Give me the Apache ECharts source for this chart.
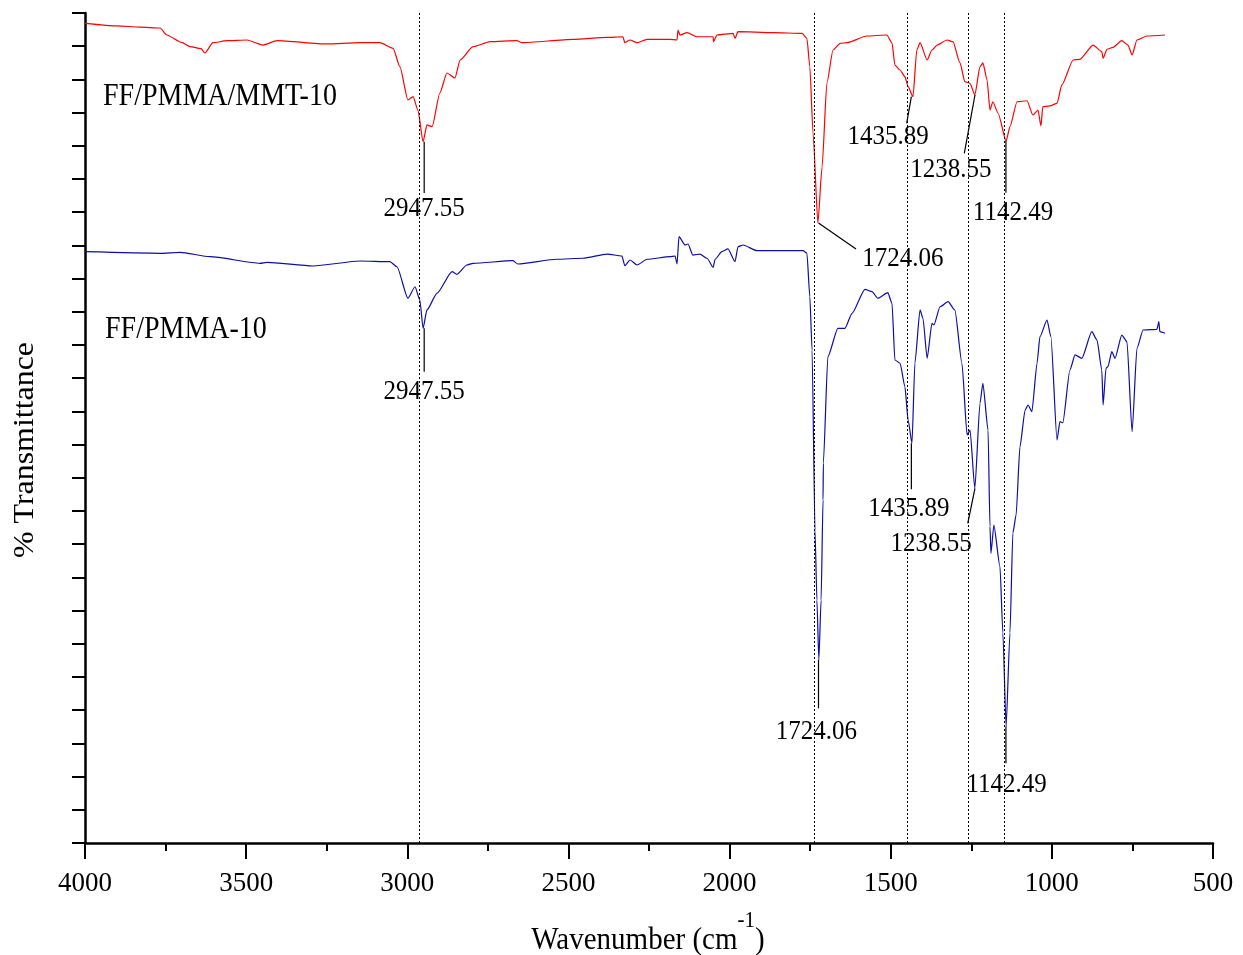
<!DOCTYPE html>
<html><head><meta charset="utf-8">
<script src="https://cdn.jsdelivr.net/npm/echarts@6/dist/echarts.min.js"></script>
<style>html,body{margin:0;padding:0;background:#fff}#c{width:1243px;height:955px}</style>
</head><body><div id="c"></div>
<script>
// FF/PMMA/MMT-10 (red) spectrum, wavenumber (cm-1) and % transmittance (arbitrary offset scale)
const redWn = [4000,3900,3830,3767,3746,3700,3674,3640,3628,3603,3559,3497,3448,3404,3249,3147,3085,3044,3023,2998,2982,2967,2951,2939,2923,2899,2877,2852,2836,2796,2743,2660,2644,2486,2380,2331,2325,2309,2287,2256,2185,2163,2160,2154,2132,2101,2051,2050,2039,1989,1983,1974,1865,1775,1760,1751,1741,1726,1713,1698,1679,1657,1636,1574,1512,1496,1487,1471,1456,1446,1431,1419,1409,1387,1372,1356,1325,1307,1285,1270,1254,1239,1223,1214,1201,1192,1183,1167,1142,1130,1108,1077,1059,1043,1034,1028,1006,984,969,934,913,872,845,841,829,810,783,764,751,736,705,649];
const redT  = [98.76,98.45,98.30,98.19,97.35,96.45,95.94,95.70,95.18,96.42,96.66,96.75,96.14,96.66,96.27,96.42,96.42,95.75,93.53,89.52,89.92,88.31,84.49,86.51,86.30,90.36,92.77,92.17,94.34,95.94,96.54,96.66,96.42,96.83,97.07,97.14,96.42,96.75,96.42,96.83,96.83,96.75,97.95,97.35,97.63,97.14,97.14,96.54,97.35,97.55,96.95,97.75,97.63,97.55,96.95,93.53,85.54,74.70,81.45,91.57,95.54,96.35,96.42,97.23,97.35,96.39,93.73,93.13,92.33,91.12,89.92,95.54,96.42,94.34,95.54,96.14,96.75,96.54,93.98,91.72,91.53,90.12,93.53,93.98,91.93,88.31,89.31,87.95,84.58,86.30,89.31,89.43,87.71,88.31,86.39,88.71,88.80,89.12,91.33,94.34,94.42,96.14,95.34,94.54,95.63,95.87,96.66,96.14,94.94,96.75,97.23,97.35];

// FF/PMMA-10 (blue) spectrum
const blueWn = [4000,3767,3705,3612,3457,3435,3293,3147,3054,3032,2998,2976,2961,2951,2939,2908,2861,2846,2815,2796,2672,2657,2536,2455,2380,2334,2325,2309,2287,2256,2185,2169,2163,2157,2138,2129,2114,2092,2070,2051,2045,2024,2005,1983,1974,1958,1915,1772,1760,1751,1744,1735,1729,1723,1716,1710,1709,1695,1664,1642,1620,1580,1558,1540,1509,1496,1487,1471,1456,1446,1434,1425,1409,1400,1387,1372,1366,1347,1322,1301,1279,1263,1254,1239,1223,1214,1198,1192,1189,1180,1161,1152,1142,1130,1121,1111,1099,1083,1074,1062,1046,1037,1015,1003,984,975,966,944,928,907,876,860,845,841,832,826,814,804,783,767,751,736,717,674,668,665,649];
const blueT  = [71.24,71.05,71.17,70.64,69.84,69.96,69.52,70.12,70.04,69.43,65.63,67.02,65.42,62.01,64.22,66.23,68.83,68.52,69.64,69.84,70.16,69.76,70.33,70.45,70.96,70.72,69.55,70.24,69.64,70.33,70.64,70.72,69.76,73.05,72.05,72.17,70.84,70.96,70.45,69.36,70.33,71.24,71.57,70.04,71.84,72.05,71.36,71.36,71.05,65.82,59.40,37.71,29.28,22.05,29.28,41.33,45.78,58.59,62.01,62.01,63.82,66.71,66.42,65.63,66.30,65.02,58.19,57.80,54.98,50.96,48.16,57.83,64.22,63.22,58.40,62.61,62.41,64.61,65.22,64.22,57.80,49.16,49.76,42.73,52.98,55.39,49.76,38.11,34.90,38.31,33.29,25.30,14.01,25.30,37.35,39.5,47.75,52.17,52.77,51.96,57.80,61.00,63.01,61.00,48.55,50.76,50.64,56.99,58.80,58.40,61.60,60.60,56.99,52.77,57.19,57.39,59.19,58.40,61.20,60.40,49.55,59.60,61.81,61.89,62.81,61.60,61.41];

const seriesNames = ['FF/PMMA/MMT-10', 'FF/PMMA-10'];
const peakLabels = ['2947.55', '1724.06', '1435.89', '1238.55', '1142.49'];
// reference (dotted) lines, wavenumber
const refLines = [2962, 1737, 1449.5, 1259, 1147];
// annotations: [peakWn, peakT, leaderEndWn, leaderEndT, textWn, textT]
const redAnn = [
  [2947.55, 84.49, 2947.55, 78.31, 2947.55, 76.39],
  [1724.06, 74.70, 1607.7, 71.57, 1461.9, 70.36],
  [1435.89, 89.92, 1450.5, 86.71, 1508.4, 85.10],
  [1238.55, 90.12, 1271.7, 83.10, 1313.6, 81.12],
  [1142.49, 84.58, 1142.49, 78.35, 1120.6, 75.90]
];
const blueAnn = [
  [2947.55, 62.01, 2947.55, 56.78, 2947.55, 54.37],
  [1724.06, 22.05, 1724.06, 16.23, 1730.3, 13.37],
  [1435.89, 48.16, 1435.89, 42.61, 1443.3, 40.33],
  [1238.55, 42.73, 1261.0, 38.52, 1374.4, 36.11],
  [1142.49, 14.01, 1142.49, 9.60, 1140.1, 6.99]
];

const FONT = '"Liberation Serif", "Times New Roman", serif';
const zip = (a, b) => a.map((v, i) => [v, b[i]]);

function annSeries(ann) {
  return {
    type: 'custom', silent: true, clip: false, z: 5,
    encode: { x: [0, 2, 4], y: [1, 3, 5] },
    data: ann,
    renderItem: function (params, api) {
      const s = api.coord([api.value(0), api.value(1)]);
      const e = api.coord([api.value(2), api.value(3)]);
      const t = api.coord([api.value(4), api.value(5)]);
      return {
        type: 'group',
        children: [
          { type: 'line', shape: { x1: s[0], y1: s[1], x2: e[0], y2: e[1] }, style: { stroke: '#000', lineWidth: 1.2 } },
          { type: 'text', x: t[0], y: t[1], scaleY: 1.12,
            style: { text: peakLabels[params.dataIndex], fill: '#000', font: '25px ' + FONT, align: 'center', verticalAlign: 'middle' } }
        ]
      };
    }
  };
}

const chart = echarts.init(document.getElementById('c'), null, { renderer: 'canvas' });
chart.setOption({
  animation: false,
  backgroundColor: '#fff',
  grid: { left: 85, right: 30, top: 13, bottom: 112, containLabel: false },
  xAxis: {
    type: 'value', inverse: true, min: 500, max: 4000, interval: 500,
    axisLine: { show: true, onZero: false, lineStyle: { color: '#000', width: 2.5 } },
    axisTick: { show: true, inside: false, length: 16, lineStyle: { color: '#000', width: 2 } },
    minorTick: { show: true, splitNumber: 2, length: 8, lineStyle: { color: '#000', width: 2 } },
    splitLine: { show: false }, minorSplitLine: { show: false },
    axisLabel: { color: '#000', fontFamily: FONT, fontSize: 27, margin: 27, formatter: v => String(v) }
  },
  yAxis: {
    type: 'value', min: 0, max: 100, interval: 4,
    axisLine: { show: true, onZero: false, lineStyle: { color: '#000', width: 2.5 } },
    axisTick: { show: true, inside: false, length: 13, lineStyle: { color: '#000', width: 2 } },
    axisLabel: { show: false },
    splitLine: { show: false }
  },
  graphic: [
    { type: 'text', x: 103, y: 97, scaleY: 1.12, style: { text: seriesNames[0], font: '28px ' + FONT, fill: '#000', align: 'left', verticalAlign: 'middle' } },
    { type: 'text', x: 105, y: 330, scaleY: 1.12, style: { text: seriesNames[1], font: '28px ' + FONT, fill: '#000', align: 'left', verticalAlign: 'middle' } },
    { type: 'text', x: 25, y: 450, rotation: Math.PI / 2, scaleX: 1.1, style: { text: '% Transmittance', font: '29px ' + FONT, fill: '#000', align: 'center', verticalAlign: 'middle' } },
    { type: 'text', x: 648, y: 940, scaleY: 1.12,
      style: { text: '{a|Wavenumber (cm}{b|-1}{a|)}', fill: '#000', align: 'center', verticalAlign: 'middle',
        rich: { a: { font: '29px ' + FONT, fill: '#000', lineHeight: 56, verticalAlign: 'middle' },
                b: { font: '21px ' + FONT, fill: '#000', lineHeight: 20, verticalAlign: 'top' } } } }
  ],
  series: [
    {
      name: seriesNames[0], type: 'line', data: zip(redWn, redT), showSymbol: false, symbol: 'none',
      smooth: 0.2, smoothMonotone: 'x',
      lineStyle: { color: '#ff0000', width: 1.2 }, z: 3,
      markLine: {
        silent: true, symbol: ['none', 'none'], label: { show: false },
        lineStyle: { color: '#000', width: 1, type: [2, 2] },
        data: refLines.map(v => ({ xAxis: v }))
      }
    },
    {
      name: seriesNames[1], type: 'line', data: zip(blueWn, blueT), showSymbol: false, symbol: 'none',
      smooth: 0.2, smoothMonotone: 'x',
      lineStyle: { color: '#0d0da8', width: 1.2 }, z: 3
    },
    annSeries(redAnn),
    annSeries(blueAnn)
  ]
});
</script>
</body></html>
